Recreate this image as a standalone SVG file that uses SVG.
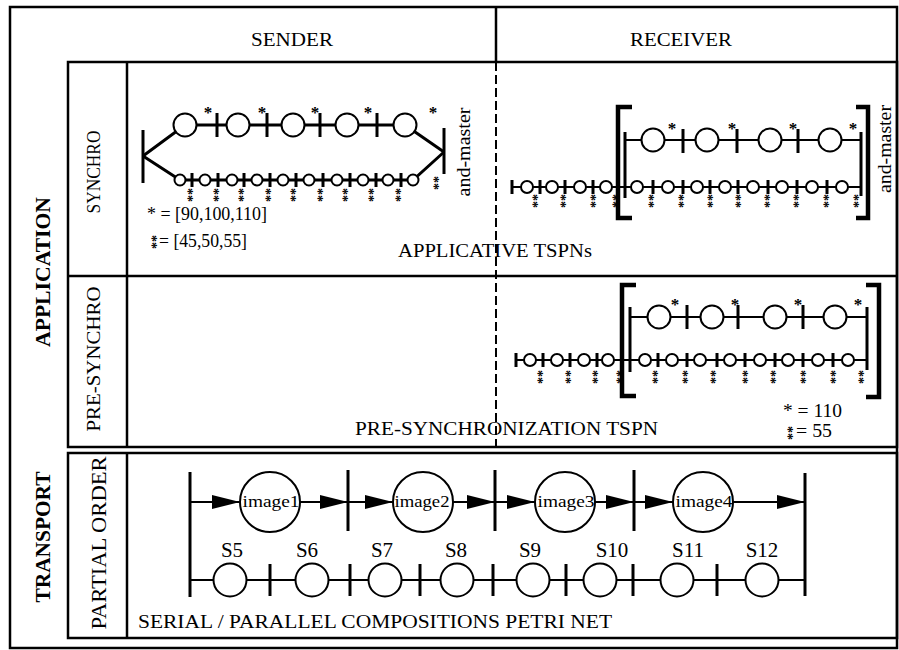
<svg xmlns="http://www.w3.org/2000/svg" width="899" height="650" viewBox="0 0 899 650">
<style>
.t{font-family:"Liberation Serif","Times New Roman",serif;fill:#000}
.b{font-weight:bold}
.s{font-family:"Liberation Serif","Times New Roman",serif;font-size:17px;font-weight:bold;text-anchor:middle;fill:#000}
.dv{font-family:"Liberation Serif","Times New Roman",serif;font-size:14px;font-weight:bold;text-anchor:middle;writing-mode:vertical-rl;fill:#000}
.fr{fill:none;stroke:#000;stroke-width:2.5}
.ln{fill:none;stroke:#000;stroke-width:2}
.thk{fill:none;stroke:#000;stroke-width:3}
.bar{stroke:#000;stroke-width:3}
.pl{fill:#fff;stroke:#000;stroke-width:2}
.br{fill:none;stroke:#000;stroke-width:4.5}
.dash{stroke:#000;stroke-width:2;stroke-dasharray:9 4}
</style>
<defs>
<marker id="ah" markerUnits="userSpaceOnUse" markerWidth="28" markerHeight="14" refX="28" refY="7" orient="auto">
<path d="M0,0 L28,7 L0,14 z" fill="#000"/>
</marker>
</defs>

<g id="frame">
<rect class="fr" x="10" y="7" width="887" height="641"/>
<rect class="fr" x="68" y="62" width="829" height="385"/>
<line class="fr" x1="127" y1="62" x2="127" y2="447"/>
<line class="fr" x1="68" y1="276" x2="897" y2="276"/>
<rect class="fr" x="68" y="453" width="829" height="185"/>
<line class="fr" x1="127" y1="453" x2="127" y2="638"/>
<line class="fr" x1="496" y1="7" x2="496" y2="62"/>
<line class="dash" x1="496" y1="62" x2="496" y2="447"/>
</g>

<g id="labels">
<text class="t" x="251" y="46" font-size="18" textLength="82" lengthAdjust="spacingAndGlyphs">SENDER</text>
<text class="t" x="630" y="46" font-size="18" textLength="102" lengthAdjust="spacingAndGlyphs">RECEIVER</text>
<text class="t b" font-size="21" text-anchor="middle" transform="translate(50,272) rotate(-90)" textLength="150" lengthAdjust="spacingAndGlyphs">APPLICATION</text>
<text class="t b" font-size="21" text-anchor="middle" transform="translate(50,537) rotate(-90)" textLength="131" lengthAdjust="spacingAndGlyphs">TRANSPORT</text>
<text class="t" font-size="19" text-anchor="middle" transform="translate(100,172) rotate(-90)" textLength="83" lengthAdjust="spacingAndGlyphs">SYNCHRO</text>
<text class="t" font-size="19" text-anchor="middle" transform="translate(100,359) rotate(-90)" textLength="145" lengthAdjust="spacingAndGlyphs">PRE-SYNCHRO</text>
<text class="t" font-size="21" text-anchor="middle" transform="translate(106,543) rotate(-90)" textLength="173" lengthAdjust="spacingAndGlyphs">PARTIAL ORDER</text>
<text class="t" x="398" y="257" font-size="18" textLength="194" lengthAdjust="spacingAndGlyphs">APPLICATIVE TSPNs</text>
<text class="t" x="355" y="435" font-size="18" textLength="303" lengthAdjust="spacingAndGlyphs">PRE-SYNCHRONIZATION TSPN</text>
<text class="t" x="138" y="628" font-size="19" textLength="474" lengthAdjust="spacingAndGlyphs">SERIAL / PARALLEL COMPOSITIONS PETRI NET</text>
<text class="t" x="147" y="220" font-size="18" textLength="120" lengthAdjust="spacingAndGlyphs">* = [90,100,110]</text>
<text class="dv" x="151" y="242">**</text>
<text class="t" x="159" y="247" font-size="18" textLength="88" lengthAdjust="spacingAndGlyphs">= [45,50,55]</text>
<text class="t" x="783" y="417" font-size="18" textLength="59" lengthAdjust="spacingAndGlyphs">* = 110</text>
<text class="dv" x="787" y="433">**</text>
<text class="t" x="796" y="437" font-size="18" textLength="36" lengthAdjust="spacingAndGlyphs">= 55</text>
<text class="t" font-size="18" text-anchor="middle" transform="translate(470,152) rotate(-90)" textLength="89" lengthAdjust="spacingAndGlyphs">and-master</text>
<text class="t" font-size="18" text-anchor="middle" transform="translate(891,149) rotate(-90)" textLength="88" lengthAdjust="spacingAndGlyphs">and-master</text>
</g>

<g id="connectors">
<polyline class="thk" points="143,156 185,125 405,125 444,152"/>
<polyline class="thk" points="143,156 180,180 413,180 444,152"/>
<line class="ln" x1="625" y1="140" x2="861" y2="140"/>
<line class="ln" x1="512" y1="187" x2="861" y2="187"/>
<line class="ln" x1="630" y1="317" x2="867" y2="317"/>
<line class="ln" x1="516" y1="360" x2="867" y2="360"/>
<line class="ln" x1="190" y1="502" x2="240" y2="502" marker-end="url(#ah)"/>
<line class="ln" x1="300" y1="502" x2="348" y2="502" marker-end="url(#ah)"/>
<line class="ln" x1="348" y1="502" x2="393" y2="502" marker-end="url(#ah)"/>
<line class="ln" x1="453" y1="502" x2="495" y2="502" marker-end="url(#ah)"/>
<line class="ln" x1="495" y1="502" x2="535" y2="502" marker-end="url(#ah)"/>
<line class="ln" x1="595" y1="502" x2="634" y2="502" marker-end="url(#ah)"/>
<line class="ln" x1="634" y1="502" x2="673" y2="502" marker-end="url(#ah)"/>
<line class="ln" x1="733" y1="502" x2="805" y2="502" marker-end="url(#ah)"/>
<line class="ln" x1="190" y1="580" x2="805" y2="580"/>
</g>

<g id="sender-synchro">
<line class="bar" x1="143" y1="130" x2="143" y2="183"/>
<line class="bar" x1="444" y1="128" x2="444" y2="174"/>
<g class="bar">
<line x1="217" y1="113" x2="217" y2="137"/><line x1="267" y1="113" x2="267" y2="137"/>
<line x1="320" y1="113" x2="320" y2="137"/><line x1="377" y1="113" x2="377" y2="137"/>
<line x1="192" y1="173" x2="192" y2="187"/><line x1="218" y1="173" x2="218" y2="187"/>
<line x1="244" y1="173" x2="244" y2="187"/><line x1="270" y1="173" x2="270" y2="187"/>
<line x1="296" y1="173" x2="296" y2="187"/><line x1="323" y1="173" x2="323" y2="187"/>
<line x1="350" y1="173" x2="350" y2="187"/><line x1="376" y1="173" x2="376" y2="187"/>
<line x1="401" y1="173" x2="401" y2="187"/>
</g>
<g class="pl">
<circle cx="185" cy="125" r="11.5"/><circle cx="238" cy="125" r="11.5"/><circle cx="293" cy="125" r="11.5"/>
<circle cx="347" cy="125" r="11.5"/><circle cx="405" cy="125" r="11.5"/>
<circle cx="180" cy="180" r="5.5"/><circle cx="205" cy="180" r="5.5"/><circle cx="232" cy="180" r="5.5"/>
<circle cx="257" cy="180" r="5.5"/><circle cx="283" cy="180" r="5.5"/><circle cx="309" cy="180" r="5.5"/>
<circle cx="337" cy="180" r="5.5"/><circle cx="363" cy="180" r="5.5"/><circle cx="388" cy="180" r="5.5"/>
<circle cx="413" cy="180" r="5.5"/>
</g>
<g>
<text class="s" x="208" y="118">*</text><text class="s" x="262" y="118">*</text><text class="s" x="315" y="118">*</text>
<text class="s" x="368" y="118">*</text><text class="s" x="433" y="118">*</text>
<text class="dv" x="187" y="195">**</text><text class="dv" x="213" y="195">**</text><text class="dv" x="238" y="195">**</text>
<text class="dv" x="265" y="195">**</text><text class="dv" x="290" y="195">**</text><text class="dv" x="317" y="195">**</text>
<text class="dv" x="342" y="195">**</text><text class="dv" x="368" y="195">**</text><text class="dv" x="395" y="195">**</text>
<text class="dv" x="433" y="183">**</text>
</g>
</g>

<g id="receiver-synchro">
<path class="br" d="M632,107 H618 V218 H632"/>
<path class="br" d="M856,107 H868 V218 H856"/>
<line class="bar" x1="625" y1="132" x2="625" y2="198"/>
<line class="bar" x1="861" y1="132" x2="861" y2="196"/>
<g class="bar">
<line x1="683" y1="129" x2="683" y2="153"/><line x1="737" y1="129" x2="737" y2="153"/><line x1="798" y1="129" x2="798" y2="153"/>
<line x1="512" y1="180" x2="512" y2="194"/>
<line x1="540" y1="180" x2="540" y2="194"/><line x1="565" y1="180" x2="565" y2="194"/><line x1="593" y1="180" x2="593" y2="194"/>
<line x1="653" y1="180" x2="653" y2="194"/><line x1="683" y1="180" x2="683" y2="194"/><line x1="710" y1="180" x2="710" y2="194"/>
<line x1="738" y1="180" x2="738" y2="194"/><line x1="768" y1="180" x2="768" y2="194"/><line x1="797" y1="180" x2="797" y2="194"/>
<line x1="827" y1="180" x2="827" y2="194"/>
</g>
<g class="pl">
<circle cx="653" cy="140" r="11.5"/><circle cx="707" cy="140" r="11.5"/><circle cx="770" cy="140" r="11.5"/><circle cx="830" cy="140" r="11.5"/>
<circle cx="527" cy="187" r="6"/><circle cx="552" cy="187" r="6"/><circle cx="580" cy="187" r="6"/><circle cx="606" cy="187" r="6"/>
<circle cx="637" cy="187" r="6"/><circle cx="668" cy="187" r="6"/><circle cx="697" cy="187" r="6"/><circle cx="725" cy="187" r="6"/>
<circle cx="753" cy="187" r="6"/><circle cx="782" cy="187" r="6"/><circle cx="812" cy="187" r="6"/><circle cx="842" cy="187" r="6"/>
</g>
<g>
<text class="s" x="672" y="134">*</text><text class="s" x="732" y="134">*</text><text class="s" x="793" y="134">*</text><text class="s" x="853" y="134">*</text>
<text class="dv" x="532" y="201">**</text><text class="dv" x="560" y="201">**</text><text class="dv" x="590" y="201">**</text>
<text class="dv" x="612" y="201">**</text><text class="dv" x="648" y="201">**</text><text class="dv" x="678" y="201">**</text>
<text class="dv" x="707" y="201">**</text><text class="dv" x="735" y="201">**</text><text class="dv" x="764" y="201">**</text>
<text class="dv" x="793" y="201">**</text><text class="dv" x="823" y="201">**</text><text class="dv" x="853" y="201">**</text>
</g>
</g>

<g id="receiver-presynchro">
<path class="br" d="M636,285 H622 V396 H636"/>
<path class="br" d="M866,285 H879 V397 H866"/>
<line class="bar" x1="630" y1="307" x2="630" y2="372"/>
<line class="bar" x1="867" y1="307" x2="867" y2="370"/>
<g class="bar">
<line x1="687" y1="305" x2="687" y2="329"/><line x1="738" y1="305" x2="738" y2="329"/><line x1="803" y1="305" x2="803" y2="329"/>
<line x1="516" y1="353" x2="516" y2="367"/>
<line x1="543" y1="353" x2="543" y2="367"/><line x1="570" y1="353" x2="570" y2="367"/><line x1="597" y1="353" x2="597" y2="367"/>
<line x1="658" y1="353" x2="658" y2="367"/><line x1="687" y1="353" x2="687" y2="367"/><line x1="717" y1="353" x2="717" y2="367"/>
<line x1="745" y1="353" x2="745" y2="367"/><line x1="775" y1="353" x2="775" y2="367"/><line x1="803" y1="353" x2="803" y2="367"/>
<line x1="833" y1="353" x2="833" y2="367"/>
</g>
<g class="pl">
<circle cx="659" cy="317" r="11.5"/><circle cx="712" cy="317" r="11.5"/><circle cx="775" cy="317" r="11.5"/><circle cx="835" cy="317" r="11.5"/>
<circle cx="530" cy="360" r="6"/><circle cx="557" cy="360" r="6"/><circle cx="584" cy="360" r="6"/><circle cx="608" cy="360" r="6"/>
<circle cx="645" cy="360" r="6"/><circle cx="672" cy="360" r="6"/><circle cx="700" cy="360" r="6"/><circle cx="730" cy="360" r="6"/>
<circle cx="760" cy="360" r="6"/><circle cx="788" cy="360" r="6"/><circle cx="818" cy="360" r="6"/><circle cx="848" cy="360" r="6"/>
</g>
<g>
<text class="s" x="675" y="310">*</text><text class="s" x="735" y="310">*</text><text class="s" x="798" y="310">*</text><text class="s" x="858" y="310">*</text>
<text class="dv" x="537" y="377">**</text><text class="dv" x="565" y="377">**</text><text class="dv" x="592" y="377">**</text>
<text class="dv" x="616" y="377">**</text><text class="dv" x="652" y="377">**</text><text class="dv" x="682" y="377">**</text>
<text class="dv" x="710" y="377">**</text><text class="dv" x="742" y="377">**</text><text class="dv" x="770" y="377">**</text>
<text class="dv" x="800" y="377">**</text><text class="dv" x="830" y="377">**</text><text class="dv" x="858" y="377">**</text>
</g>
</g>

<g id="transport-net">
<line class="bar" x1="190" y1="472" x2="190" y2="597"/>
<line class="bar" x1="805" y1="473" x2="805" y2="596"/>
<g class="bar">
<line x1="348" y1="470" x2="348" y2="531"/><line x1="495" y1="470" x2="495" y2="531"/><line x1="634" y1="470" x2="634" y2="531"/>
<line x1="270" y1="564" x2="270" y2="596"/><line x1="350" y1="564" x2="350" y2="596"/><line x1="420" y1="564" x2="420" y2="596"/>
<line x1="493" y1="564" x2="493" y2="596"/><line x1="566" y1="564" x2="566" y2="596"/><line x1="633" y1="564" x2="633" y2="596"/>
<line x1="717" y1="564" x2="717" y2="596"/>
</g>
<g id="image1"><circle class="pl" cx="270" cy="502" r="30"/><text class="t" x="271" y="507" font-size="17" text-anchor="middle" textLength="57" lengthAdjust="spacingAndGlyphs">image1</text></g>
<g id="image2"><circle class="pl" cx="423" cy="502" r="30"/><text class="t" x="422" y="507" font-size="17" text-anchor="middle" textLength="55" lengthAdjust="spacingAndGlyphs">image2</text></g>
<g id="image3"><circle class="pl" cx="565" cy="502" r="30"/><text class="t" x="566" y="507" font-size="17" text-anchor="middle" textLength="57" lengthAdjust="spacingAndGlyphs">image3</text></g>
<g id="image4"><circle class="pl" cx="703" cy="502" r="30"/><text class="t" x="704" y="507" font-size="17" text-anchor="middle" textLength="57" lengthAdjust="spacingAndGlyphs">image4</text></g>
<g class="pl">
<circle cx="230" cy="580" r="16.5"/><circle cx="312" cy="580" r="16.5"/><circle cx="385" cy="580" r="16.5"/><circle cx="457" cy="580" r="16.5"/>
<circle cx="533" cy="580" r="16.5"/><circle cx="600" cy="580" r="16.5"/><circle cx="677" cy="580" r="16.5"/><circle cx="762" cy="580" r="16.5"/>
</g>
<g class="t" font-size="21" text-anchor="middle">
<text x="232" y="557">S5</text><text x="307" y="557">S6</text><text x="382" y="557">S7</text><text x="456" y="557">S8</text>
<text x="530" y="557">S9</text><text x="612" y="557">S10</text><text x="688" y="557">S11</text><text x="762" y="557">S12</text>
</g>
</g>
</svg>
